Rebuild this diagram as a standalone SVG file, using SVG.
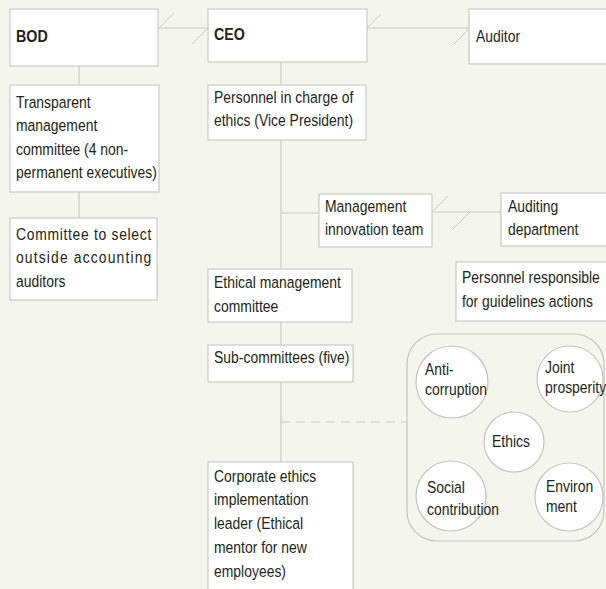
<svg xmlns="http://www.w3.org/2000/svg" width="606" height="589" viewBox="0 0 606 589">
<style>
.bx{fill:#ffffff;stroke:#c8c8c8;stroke-width:1.2}
.ln{stroke:#c8c8c8;stroke-width:1.2;fill:none}
.sl{stroke:#c8c8c8;stroke-width:1;fill:none}
.ci{fill:#ffffff;stroke:#c4c4c4;stroke-width:1.2}
text{font-family:"Liberation Sans",Arial,sans-serif;font-size:17px;fill:#231f20}
.b{font-weight:bold}
</style>
<rect x="0" y="0" width="606" height="589" fill="#f5f4ed"/>
<g id="connectors">
<line class="ln" x1="158" y1="28" x2="208" y2="28"/>
<line class="sl" x1="159" y1="28" x2="174" y2="13"/>
<line class="sl" x1="192" y1="44" x2="208" y2="28"/>
<line class="ln" x1="367" y1="28" x2="469" y2="28"/>
<line class="sl" x1="367" y1="28" x2="381" y2="14"/>
<line class="sl" x1="454" y1="44" x2="469" y2="29"/>
<line class="ln" x1="79" y1="66" x2="79" y2="85"/>
<line class="ln" x1="79" y1="192" x2="79" y2="218"/>
<line class="ln" x1="281" y1="62" x2="281" y2="85"/>
<line class="ln" x1="281" y1="140" x2="281" y2="269"/>
<line class="ln" x1="281" y1="213" x2="319" y2="213"/>
<line class="ln" x1="432" y1="212" x2="501" y2="212"/>
<line class="sl" x1="432" y1="212" x2="448" y2="196"/>
<line class="sl" x1="453" y1="229" x2="470" y2="212"/>
<line class="ln" x1="281" y1="322" x2="281" y2="345"/>
<line class="ln" x1="281" y1="382" x2="281" y2="462"/>
<line class="ln" x1="281" y1="422" x2="407" y2="422" stroke-dasharray="9,6"/>
</g>
<g id="bod"><rect class="bx" x="10" y="9" width="148" height="57"/><text class="b" transform="translate(16,42) scale(0.84,1)">BOD</text></g>
<g id="ceo"><rect class="bx" x="208" y="9" width="159" height="53"/><text class="b" transform="translate(214,40) scale(0.84,1)">CEO</text></g>
<g id="auditor"><rect class="bx" x="469" y="9" width="150" height="55"/><text transform="translate(476,42) scale(0.82,1)">Auditor</text></g>
<g id="transparent"><rect class="bx" x="10" y="85" width="149" height="107"/>
<text transform="translate(16,108) scale(0.82,1)">Transparent</text><text transform="translate(16,131) scale(0.82,1)">management</text><text transform="translate(16,155) scale(0.82,1)">committee (4 non-</text><text transform="translate(16,178) scale(0.82,1)">permanent executives)</text></g>
<g id="select"><rect class="bx" x="10" y="218" width="147" height="82"/>
<text transform="translate(16,240) scale(0.82,1)" textLength="165" lengthAdjust="spacing">Committee to select</text><text transform="translate(16,263) scale(0.82,1)" textLength="165" lengthAdjust="spacing">outside accounting</text><text transform="translate(16,287) scale(0.82,1)">auditors</text></g>
<g id="vp"><rect class="bx" x="208" y="85" width="158" height="55"/>
<text transform="translate(214,103) scale(0.82,1)">Personnel in charge of</text><text transform="translate(214,126) scale(0.82,1)">ethics (Vice President)</text></g>
<g id="mit"><rect class="bx" x="319" y="194" width="113" height="53"/>
<text transform="translate(325,212) scale(0.82,1)">Management</text><text transform="translate(325,235) scale(0.82,1)">innovation team</text></g>
<g id="auditing"><rect class="bx" x="501" y="193" width="120" height="53"/>
<text transform="translate(508,212) scale(0.82,1)">Auditing</text><text transform="translate(508,235) scale(0.82,1)">department</text></g>
<g id="guidelines"><rect class="bx" x="456" y="262" width="165" height="59"/>
<text transform="translate(462,283) scale(0.82,1)">Personnel responsible</text><text transform="translate(462,307) scale(0.82,1)">for guidelines actions</text></g>
<g id="emc"><rect class="bx" x="208" y="269" width="144" height="53"/>
<text transform="translate(214,288) scale(0.82,1)">Ethical management</text><text transform="translate(214,312) scale(0.82,1)">committee</text></g>
<g id="sub"><rect class="bx" x="208" y="345" width="145" height="37"/>
<text transform="translate(214,363) scale(0.82,1)">Sub-committees (five)</text></g>
<g id="leader"><rect class="bx" x="208" y="462" width="145" height="140"/>
<text transform="translate(214,482) scale(0.82,1)">Corporate ethics</text><text transform="translate(214,505) scale(0.82,1)">implementation</text><text transform="translate(214,529) scale(0.82,1)">leader (Ethical</text><text transform="translate(214,553) scale(0.82,1)">mentor for new</text><text transform="translate(214,577) scale(0.82,1)">employees)</text></g>
<g id="group"><rect x="407" y="334" width="197" height="207" rx="30" ry="30" fill="none" stroke="#c4c4c4" stroke-width="1.2"/></g>
<g id="anti"><circle class="ci" cx="452" cy="382" r="36"/><text transform="translate(425,375) scale(0.82,1)">Anti-</text><text transform="translate(425,395) scale(0.82,1)">corruption</text></g>
<g id="joint"><circle class="ci" cx="570" cy="379" r="33"/><text transform="translate(545,373) scale(0.82,1)">Joint</text><text transform="translate(545,393) scale(0.82,1)">prosperity</text></g>
<g id="ethics"><circle class="ci" cx="514" cy="442" r="30"/><text transform="translate(492,447) scale(0.82,1)">Ethics</text></g>
<g id="social"><circle class="ci" cx="451" cy="496" r="35"/><text transform="translate(427,493) scale(0.82,1)">Social</text><text transform="translate(427,515) scale(0.82,1)">contribution</text></g>
<g id="environ"><circle class="ci" cx="569" cy="497" r="34"/><text transform="translate(546,492) scale(0.82,1)">Environ</text><text transform="translate(546,512) scale(0.82,1)">ment</text></g>
</svg>
